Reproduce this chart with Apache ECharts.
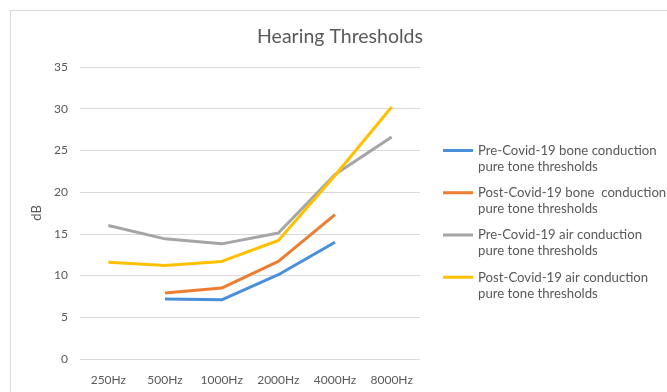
<!DOCTYPE html>
<html>
<head>
<meta charset="utf-8">
<script src="https://cdn.jsdelivr.net/npm/echarts@6/dist/echarts.min.js"></script>
<style>
  html, body { margin: 0; padding: 0; background: #fff; }
  .frame {
    position: absolute; left: 10px; top: 10px; width: 700px; height: 400px;
    border-left: 1px solid #d9d9d9; border-top: 1px solid #d9d9d9;
  }
  #chart { position: absolute; left: 0; top: 0; width: 667px; height: 392px; }
</style>
</head>
<body>
<div class="frame"></div>
<div id="chart"></div>
<script>
const CATEGORIES = ['250Hz', '500Hz', '1000Hz', '2000Hz', '4000Hz', '8000Hz']
const PRE_BONE = [null, 7.2, 7.1, 10.1, 14.0, null]
const POST_BONE = [null, 7.9, 8.5, 11.7, 17.3, null]
const PRE_AIR = [16.0, 14.4, 13.8, 15.1, 22.1, 26.6]
const POST_AIR = [11.6, 11.2, 11.7, 14.2, 22.0, 30.2]
const Y_TICKS = [0, 5, 10, 15, 20, 25, 30, 35]

const SERIES = [
  { name: 'Pre-Covid-19 bone conduction\npure tone thresholds', data: PRE_BONE, color: '#4a90d9' },
  { name: 'Post-Covid-19 bone  conduction\npure tone thresholds', data: POST_BONE, color: '#ed7d31' },
  { name: 'Pre-Covid-19 air conduction\npure tone thresholds', data: PRE_AIR, color: '#a5a5a5' },
  { name: 'Post-Covid-19 air conduction\npure tone thresholds', data: POST_AIR, color: '#ffc000' },
]

const FONT = 'Lato, "Open Sans", sans-serif'
const TXT = '#595959'
const LEGEND_CENTERS = [150.5, 192.7, 235, 277.3]
const LH = 16
// line drawn at the top of a taller icon box, so it sits beside the first text line
const ICON_H = LH + 3
const LEGEND_ICON = `path://M0,0H30V3H0Z M0,${ICON_H - 0.01}H0.01V${ICON_H}H0Z`

const chart = echarts.init(document.getElementById('chart'))
chart.setOption({
  animation: false,
  title: {
    text: 'Hearing Thresholds',
    left: 335, top: 22, textAlign: 'center',
    textStyle: { color: TXT, fontFamily: FONT, fontSize: 19.5, fontWeight: 'normal' },
  },
  legend: SERIES.map((s, i) => ({
    data: [s.name],
    left: 443,
    top: LEGEND_CENTERS[i] - (LH - ICON_H / 2) - 1.5,
    padding: 0,
    icon: LEGEND_ICON,
    itemWidth: 30,
    itemHeight: ICON_H,
    selectedMode: false,
    textStyle: { color: TXT, fontFamily: FONT, fontSize: 13.2, lineHeight: LH },
  })),
  grid: { left: 80, right: 247, top: 67, bottom: 33 },
  xAxis: {
    type: 'category',
    data: CATEGORIES,
    axisTick: { show: false },
    axisLine: { lineStyle: { color: '#d9d9d9', width: 1 } },
    axisLabel: { color: TXT, fontFamily: FONT, fontSize: 12, margin: 15 },
  },
  yAxis: {
    type: 'value',
    min: Y_TICKS[0],
    max: Y_TICKS[Y_TICKS.length - 1],
    interval: 5,
    name: 'dB',
    nameLocation: 'middle',
    nameGap: 36,
    nameTextStyle: { color: TXT, fontFamily: FONT, fontSize: 13 },
    axisLabel: { color: TXT, fontFamily: FONT, fontSize: 12, margin: 12 },
    splitLine: { lineStyle: { color: '#d9d9d9', width: 1 } },
  },
  series: SERIES.map(s => ({
    name: s.name,
    type: 'line',
    data: s.data,
    symbol: 'none',
    color: s.color,
    lineStyle: { color: s.color, width: 3 },
  })),
})
</script>
</body>
</html>
